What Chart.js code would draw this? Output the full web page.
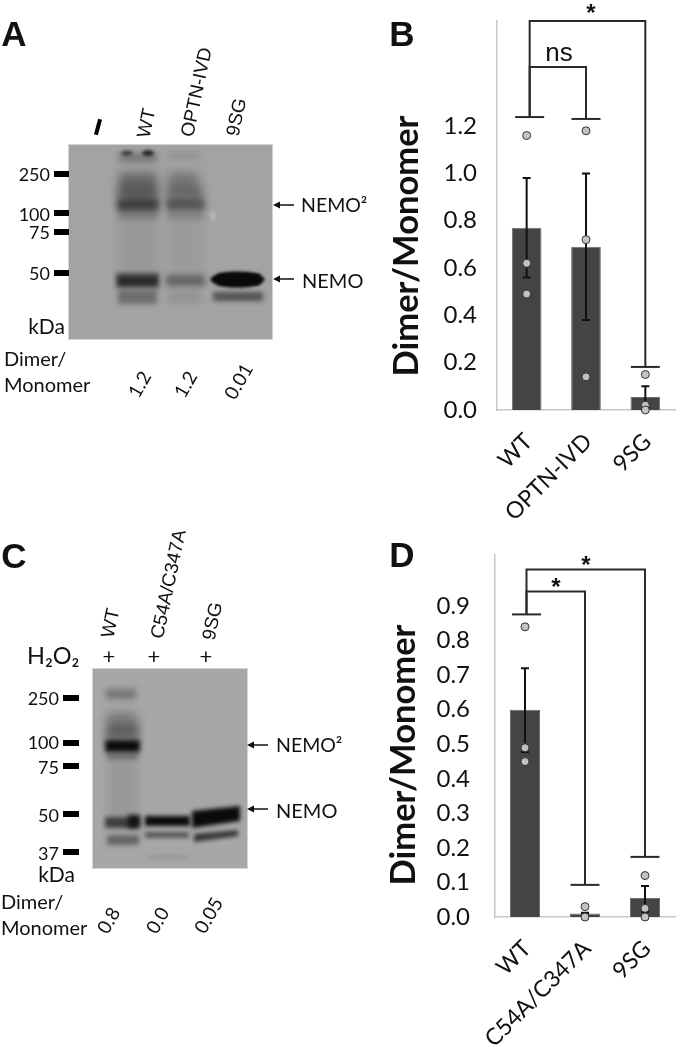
<!DOCTYPE html>
<html>
<head>
<meta charset="utf-8">
<script src="https://cdn.jsdelivr.net/npm/chart.js@4/dist/chart.umd.min.js"></script>
<style>
  html, body { margin: 0; padding: 0; background: #fff; }
  #page { position: relative; width: 680px; height: 1047px; overflow: hidden; }
  canvas { position: absolute; }
  .t { position: absolute; white-space: nowrap; color: #111; line-height: 1; }
</style>
</head>
<body>
<div id="page">
  <canvas id="blots" width="680" height="1047" style="left:0;top:0"></canvas>
  <canvas id="chartB" width="260" height="530" style="left:420px;top:0"></canvas>
  <canvas id="chartD" width="260" height="517" style="left:420px;top:530px"></canvas>
</div>
<script>
// --- Panel B data ---
const labelsB = ['WT', 'OPTN-IVD', '9SG'];
const barsB = [0.77, 0.69, 0.055];
const errHighB = [0.98, 1.0, 0.1];
const errLowB = [0.56, 0.38, 0.01];
const pointsWtB = [1.16, 0.62, 0.49];
const pointsOptnB = [1.18, 0.72, 0.14];
const points9sgB = [0.15, 0.02, 0.0];
const ticksB = [0, 0.2, 0.4, 0.6, 0.8, 1.0, 1.2];
const maxB = 1.644;
const capsB = [1.238, 1.23, 0.182];
const spansB = [[0, 2, 1.644], [0, 1, 1.45]];

// --- Panel D data ---
const labelsD = ['WT', 'C54A/C347A', '9SG'];
const barsD = [0.6, 0.01, 0.055];
const errHighD = [0.72, 0.012, 0.09];
const errLowD = [0.478, 0.008, 0.015];
const pointsWtD = [0.84, 0.49, 0.45];
const pointsC54D = [0.03, 0.0];
const points9sgD = [0.12, 0.025, 0.0];
const ticksD = [0, 0.1, 0.2, 0.3, 0.4, 0.5, 0.6, 0.7, 0.8, 0.9];
const maxD = 1.048;
const capsD = [0.876, 0.093, 0.174];
const spansD = [[0, 2, 1.006], [0, 1, 0.942]];

// error bars and significance brackets, drawn from the chart's own scales
const overlayPlugin = {
    id: 'overlay',
    afterDatasetDraw(chart, args, opts) {
        if (args.index !== 0) return;
        const x = chart.scales.x, y = chart.scales.y, ctx = chart.ctx;
        ctx.save();
        ctx.strokeStyle = '#111';
        ctx.lineWidth = 2;
        opts.high.forEach((hi, i) => {
            const px = x.getPixelForValue(i);
            ctx.beginPath();
            ctx.moveTo(px, y.getPixelForValue(hi));
            ctx.lineTo(px, y.getPixelForValue(opts.low[i]));
            ctx.moveTo(px - 4, y.getPixelForValue(hi));
            ctx.lineTo(px + 4, y.getPixelForValue(hi));
            ctx.moveTo(px - 4, y.getPixelForValue(opts.low[i]));
            ctx.lineTo(px + 4, y.getPixelForValue(opts.low[i]));
            ctx.stroke();
        });
        ctx.strokeStyle = '#2a2a2a';
        const cx = i => x.getPixelForValue(i) + (i === 0 ? opts.firstShift : 0);
        opts.caps.forEach((c, i) => {
            ctx.beginPath();
            ctx.moveTo(cx(i) - 14.5, y.getPixelForValue(c));
            ctx.lineTo(cx(i) + 14.5, y.getPixelForValue(c));
            ctx.stroke();
        });
        opts.spans.forEach(s => {
            const top = y.getPixelForValue(s[2]);
            ctx.beginPath();
            ctx.moveTo(cx(s[0]), y.getPixelForValue(opts.caps[s[0]]));
            ctx.lineTo(cx(s[0]), top);
            ctx.lineTo(cx(s[1]), top);
            ctx.lineTo(cx(s[1]), y.getPixelForValue(opts.caps[s[1]]));
            ctx.stroke();
        });
        ctx.restore();
    }
};

function toPoints(labels, lists) {
    const pts = [];
    lists.forEach((list, i) => list.forEach(v => pts.push({ x: labels[i], y: v })));
    return pts;
}

function makeChart(id, cfg) {
    new Chart(document.getElementById(id), {
        type: 'bar',
        data: {
            labels: cfg.labels,
            datasets: [
                {
                    data: cfg.bars,
                    backgroundColor: '#444444',
                    borderColor: '#6e6e6e',
                    borderWidth: 1,
                    barPercentage: 0.5,
                    categoryPercentage: 1,
                    order: 2
                },
                {
                    type: 'line',
                    data: toPoints(cfg.labels, cfg.points),
                    showLine: false,
                    pointRadius: 4,
                    pointBackgroundColor: '#c2c2c2',
                    pointBorderColor: '#333333',
                    pointBorderWidth: 1,
                    clip: false,
                    order: 1
                }
            ]
        },
        options: {
            responsive: false,
            animation: false,
            devicePixelRatio: 1,
            layout: { padding: cfg.padding },
            plugins: {
                legend: { display: false },
                tooltip: { enabled: false },
                overlay: { high: cfg.high, low: cfg.low, caps: cfg.caps, spans: cfg.spans, firstShift: cfg.firstShift }
            },
            scales: {
                x: {
                    grid: { display: false, drawTicks: false },
                    border: { color: '#c8c8c8', width: 1.5 },
                    ticks: { color: '#111', font: { family: 'Lato', size: 23 }, minRotation: 45, maxRotation: 45, autoSkip: false, padding: cfg.xPad, labelOffset: 2 },
                    afterFit: s => { s.height = cfg.xHeight; s.paddingLeft = 0; s.paddingRight = 0; }
                },
                y: {
                    min: 0,
                    max: cfg.max,
                    grid: { display: false, drawTicks: false },
                    border: { color: '#c8c8c8', width: 1.5 },
                    ticks: { color: '#111', font: { family: 'Lato', size: 24 }, padding: cfg.tickPad, callback: v => v.toFixed(1) },
                    afterBuildTicks: s => { s.ticks = cfg.ticks.map(v => ({ value: v })); },
                    afterFit: s => { s.width = cfg.yWidth; s.paddingTop = 0; s.paddingBottom = 0; }
                }
            }
        },
        plugins: [overlayPlugin]
    });
}

makeChart('chartB', {
    labels: labelsB, bars: barsB, high: errHighB, low: errLowB,
    points: [pointsWtB, pointsOptnB, points9sgB],
    ticks: ticksB, max: maxB, caps: capsB, spans: spansB, firstShift: 3,
    padding: { top: 21, right: 5, left: 0, bottom: 0 },
    xHeight: 120, yWidth: 77, tickPad: 20, xPad: 18
});
makeChart('chartD', {
    labels: labelsD, bars: barsD, high: errHighD, low: errLowD,
    points: [pointsWtD, pointsC54D, points9sgD],
    ticks: ticksD, max: maxD, caps: capsD, spans: spansD, firstShift: 1.5,
    padding: { top: 25, right: 2, left: 0, bottom: 0 },
    xHeight: 130, yWidth: 75, tickPad: 25, xPad: 18
});

// --- Blot images (pictures, not data) ---
const bg = document.getElementById('blots').getContext('2d');

function rectBand(x, y, w, h, a, blur, light) {
    bg.save();
    bg.filter = 'blur(' + (blur || 3) + 'px)';
    bg.fillStyle = (light ? 'rgba(225,225,225,' : 'rgba(10,10,10,') + a + ')';
    bg.fillRect(x, y, w, h);
    bg.restore();
}
function polyBand(pts, a, blur) {
    bg.save();
    bg.filter = 'blur(' + (blur || 3) + 'px)';
    bg.fillStyle = 'rgba(10,10,10,' + a + ')';
    bg.beginPath();
    pts.forEach((p, i) => (i ? bg.lineTo(p[0], p[1]) : bg.moveTo(p[0], p[1])));
    bg.closePath();
    bg.fill();
    bg.restore();
}
function spot(x, y, rx, ry, a, blur) {
    bg.save();
    bg.filter = 'blur(' + (blur || 2) + 'px)';
    bg.fillStyle = 'rgba(10,10,10,' + a + ')';
    bg.beginPath();
    bg.ellipse(x, y, rx, ry, 0, 0, Math.PI * 2);
    bg.fill();
    bg.restore();
}
function blotFrame(x, y, w, h, tone) {
    bg.save();
    bg.strokeStyle = '#d4d4d4';
    bg.lineWidth = 2;
    bg.strokeRect(x, y, w, h);
    bg.beginPath();
    bg.rect(x, y, w, h);
    bg.clip();
    bg.fillStyle = tone;
    bg.fillRect(x, y, w, h);
}

// panel A blot
blotFrame(69, 145, 203, 194, '#a3a3a3');
rectBand(119, 153, 38, 9, 0.3);
spot(127, 153, 6, 2.5, 0.55, 1.5);
spot(148, 153, 6, 3, 0.75, 1.5);
rectBand(168, 152, 32, 7, 0.12);
rectBand(119, 172, 38, 16, 0.36, 5);
rectBand(118, 185, 40, 16, 0.48, 5);
rectBand(117, 199, 42, 12, 0.62, 3);
rectBand(118, 210, 40, 10, 0.22);
rectBand(168, 172, 30, 16, 0.28, 5);
rectBand(167, 185, 36, 16, 0.36, 5);
rectBand(166, 199, 39, 11, 0.48, 3);
rectBand(167, 209, 37, 11, 0.18);
rectBand(119, 220, 39, 52, 0.07, 4);
rectBand(169, 220, 34, 52, 0.05, 4);
rectBand(116, 273, 43, 15, 0.62, 2.5);
rectBand(119, 278, 38, 6, 0.55, 2);
rectBand(118, 290, 39, 14, 0.34, 2.5);
rectBand(166, 275, 39, 11, 0.42, 3);
rectBand(168, 291, 33, 12, 0.1, 3);
spot(237.5, 279.5, 27, 8, 1, 1.5);
rectBand(218, 274, 42, 11, 1, 1.5);
rectBand(213, 292, 50, 9, 0.52, 2.5);
rectBand(211, 212, 4, 8, 0.5, 2, true);
bg.restore();

// panel C blot
blotFrame(93, 669, 154, 199, '#a7a7a7');
rectBand(106, 689, 30, 10, 0.32, 3);
rectBand(107, 712, 30, 14, 0.28, 5);
rectBand(106, 724, 33, 16, 0.45, 4);
rectBand(105, 740, 35, 12, 1, 2.5);
rectBand(107, 752, 31, 8, 0.32, 2.5);
rectBand(108, 760, 30, 57, 0.09, 4);
rectBand(105, 817, 34, 11, 0.68, 2.5);
rectBand(128, 815, 12, 13, 0.85, 2.5);
rectBand(107, 835, 32, 10, 0.42, 2.5);
rectBand(145, 816, 45, 10, 1, 2);
rectBand(145, 832, 44, 6, 0.5, 2);
rectBand(149, 856, 38, 3, 0.14, 2);
polyBand([[192, 811], [240, 806], [240, 821], [192, 828]], 1, 2);
polyBand([[194, 834], [238, 830], [238, 836], [194, 842]], 0.72, 2);
bg.restore();

// molecular weight markers
bg.fillStyle = '#000';
[[54, 171], [54, 210], [54, 229], [54, 270]].forEach(m => bg.fillRect(m[0], m[1], 15, 6));
[[63, 695], [63, 740], [63, 763], [63, 811], [63, 849]].forEach(m => bg.fillRect(m[0], m[1], 16, 6));

// dash over the first lane of panel A
bg.save();
bg.translate(98, 127);
bg.rotate(15 * Math.PI / 180);
bg.fillRect(-2, -8, 4, 16);
bg.restore();

function arrow(x1, x2, y) {
    bg.strokeStyle = '#111';
    bg.lineWidth = 1.5;
    bg.beginPath();
    bg.moveTo(x1 + 2, y);
    bg.lineTo(x2, y);
    bg.stroke();
    bg.fillStyle = '#111';
    bg.beginPath();
    bg.moveTo(x1 - 1, y);
    bg.lineTo(x1 + 6, y - 3.5);
    bg.lineTo(x1 + 6, y + 3.5);
    bg.fill();
}
arrow(274, 294, 205);
arrow(274, 294, 279);
arrow(248, 268, 745);
arrow(248, 268, 809);

// --- Text ---
const page = document.getElementById('page');
const SANS = '"Liberation Sans"', CAL = 'Lato';

function label(text, x, y, font, size, opts) {
    opts = opts || {};
    const el = document.createElement('div');
    el.className = 't';
    el.textContent = text;
    el.style.left = x + 'px';
    el.style.top = y + 'px';
    el.style.fontFamily = font;
    el.style.fontSize = size + 'px';
    if (opts.bold) el.style.fontWeight = 'bold';
    const ax = opts.align === 'left' ? '0' : opts.align === 'right' ? '-100%' : '-50%';
    el.style.transform = 'translate(' + ax + ',-50%) rotate(' + (opts.rot || 0) + 'deg)';
    page.appendChild(el);
}

// panel letters
label('A', 14, 33, SANS, 35, { bold: true });
label('B', 402, 33, SANS, 35, { bold: true });
label('C', 14, 555, SANS, 35, { bold: true });
label('D', 402, 554, SANS, 35, { bold: true });

// panel A
label('WT', 146, 123, SANS, 19, { rot: -78 });
label('OPTN-IVD', 196, 92, SANS, 19, { rot: -78 });
label('9SG', 236, 117, SANS, 19, { rot: -78 });
label('250', 50, 174, CAL, 18, { align: 'right' });
label('100', 50, 214, CAL, 18, { align: 'right' });
label('75', 50, 232, CAL, 18, { align: 'right' });
label('50', 50, 273, CAL, 18, { align: 'right' });
label('kDa', 65, 325, CAL, 21, { align: 'right' });
label('NEMO²', 301, 205, CAL, 19.5, { align: 'left' });
label('NEMO', 302, 280, CAL, 20, { align: 'left' });
label('Dimer/', 4, 358, CAL, 20, { align: 'left' });
label('Monomer', 4, 384, CAL, 20, { align: 'left' });
label('1.2', 139, 384, CAL, 19, { rot: -60 });
label('1.2', 185, 384, CAL, 19, { rot: -60 });
label('0.01', 238, 381, CAL, 19, { rot: -60 });

// panel C
label('WT', 110, 623, SANS, 19, { rot: -78 });
label('C54A/C347A', 168, 584, SANS, 19, { rot: -78 });
label('9SG', 212, 621, SANS, 19, { rot: -78 });
label('H₂O₂', 27, 656, CAL, 23.5, { align: 'left' });
label('+', 109, 656, CAL, 22);
label('+', 154, 656, CAL, 22);
label('+', 206, 656, CAL, 22);
label('250', 59, 698, CAL, 18, { align: 'right' });
label('100', 59, 742, CAL, 18, { align: 'right' });
label('75', 59, 767, CAL, 18, { align: 'right' });
label('50', 59, 815, CAL, 18, { align: 'right' });
label('37', 59, 853, CAL, 18, { align: 'right' });
label('kDa', 75, 873, CAL, 21, { align: 'right' });
label('NEMO²', 276, 745, CAL, 19.5, { align: 'left' });
label('NEMO', 276, 810, CAL, 20, { align: 'left' });
label('Dimer/', 1, 901, CAL, 20, { align: 'left' });
label('Monomer', 1, 927, CAL, 20, { align: 'left' });
label('0.8', 108, 920, CAL, 19, { rot: -60 });
label('0.0', 157, 920, CAL, 19, { rot: -60 });
label('0.05', 208, 915, CAL, 19, { rot: -60 });

// panel B annotations
label('Dimer/Monomer', 405, 245.5, CAL, 34.5, { bold: true, rot: -90 });
label('ns', 559, 52, SANS, 26);
label('*', 591, 13, SANS, 24, { bold: true });

// panel D annotations
label('Dimer/Monomer', 402, 755, CAL, 34.5, { bold: true, rot: -90 });
label('*', 556, 587, SANS, 24, { bold: true });
label('*', 586, 565, SANS, 24, { bold: true });
</script>
</body>
</html>
